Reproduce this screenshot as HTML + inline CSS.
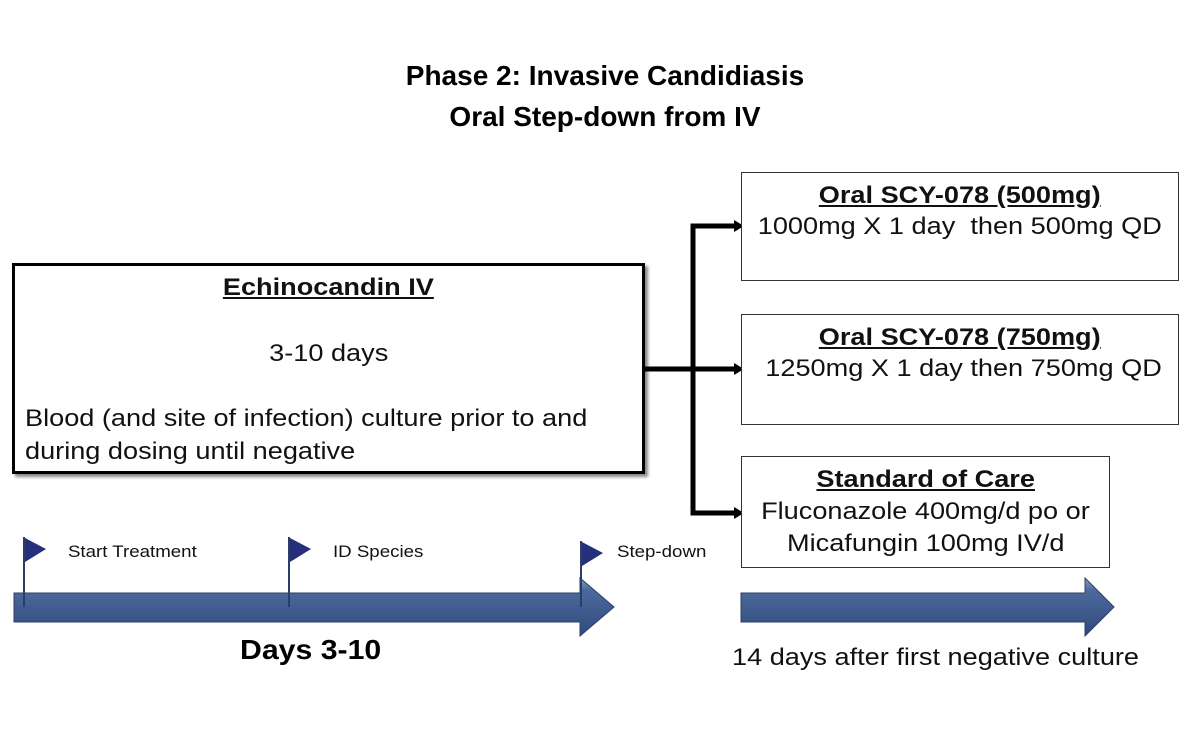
<!DOCTYPE html>
<html><head><style>
body{margin:0;width:1190px;height:749px;background:#fff;font-family:"Liberation Sans",sans-serif;position:relative;overflow:hidden}
.a{position:absolute}
.t{font-family:"Liberation Sans",sans-serif;font-weight:bold;font-size:28px;text-align:center;width:1190px;left:10px}
.box{position:absolute;border:1px solid #333;background:#fff;text-align:center;font-size:24px;color:#111}
.s{display:inline-block;transform:scaleX(1.13);transform-origin:center;white-space:nowrap}
.l{display:inline-block;transform:scaleX(1.13);transform-origin:left;white-space:nowrap}
.u{font-weight:bold;text-decoration:underline}
</style></head><body>
<div class="a t" style="top:60px">Phase 2: Invasive Candidiasis</div>
<div class="a t" style="top:101px">Oral Step-down from IV</div>

<div class="a" style="left:12px;top:263px;width:627px;height:205px;border:3px solid #000;box-shadow:3px 3px 3px #888;font-size:24px;color:#111">
 <div style="position:absolute;top:8px;width:100%;text-align:center"><span class="s u">Echinocandin IV</span></div>
 <div style="position:absolute;top:74px;width:100%;text-align:center"><span class="s">3-10 days</span></div>
 <div style="position:absolute;top:136px;left:10px;line-height:33px"><span class="l">Blood (and site of infection) culture prior to and</span><br><span class="l">during dosing until negative</span></div>
</div>

<svg class="a" style="left:0;top:0" width="1190" height="749">
 <defs>
  <linearGradient id="g" x1="0" y1="0" x2="0" y2="1"><stop offset="0" stop-color="#8aa0c4"/><stop offset="0.2" stop-color="#4e6a9c"/><stop offset="1" stop-color="#2f4a7c"/></linearGradient>
 </defs>
 <g stroke="#000" stroke-width="5" fill="none">
  <path d="M642 369 H736"/>
  <path d="M736 226 H693 V513 H736"/>
 </g>
 <g fill="#000">
  <path d="M734 220 L744 226 L734 232Z"/>
  <path d="M734 363 L744 369 L734 375Z"/>
  <path d="M734 507 L744 513 L734 519Z"/>
 </g>
 <path d="M14 593 H580 V578 L614 607 L580 636 V622 H14Z" fill="url(#g)" stroke="#2a3f66" stroke-width="1"/>
 <path d="M741 593 H1085 V578 L1114 607 L1085 636 V622 H741Z" fill="url(#g)" stroke="#2a3f66" stroke-width="1"/>
 <g stroke="#2a3f66" stroke-width="2">
  <line x1="24" y1="537" x2="24" y2="607"/><line x1="289" y1="537" x2="289" y2="607"/><line x1="581" y1="541" x2="581" y2="607"/>
 </g>
 <g fill="#252f7a">
  <path d="M25 538 L46 549 L25 562Z"/><path d="M290 538 L311 549 L290 562Z"/><path d="M582 542 L603 553 L582 566Z"/>
 </g>
 <g font-family="Liberation Sans" font-size="17" fill="#111" transform="scale(1.1,1)">
  <text x="61.8" y="557">Start Treatment</text>
  <text x="302.7" y="557">ID Species</text>
  <text x="560.9" y="557">Step-down</text>
 </g>
</svg>

<div class="box" style="left:741px;top:172px;width:436px;height:107px"><div style="margin-top:9px"><span class="s u">Oral SCY-078 (500mg)</span></div><div style="margin-top:3px"><span class="s">1000mg X 1 day&nbsp; then 500mg QD</span></div></div>
<div class="box" style="left:741px;top:314px;width:436px;height:109px"><div style="margin-top:9px"><span class="s u">Oral SCY-078 (750mg)</span></div><div style="margin-top:3px"><span class="s">&nbsp;1250mg X 1 day then 750mg QD</span></div></div>
<div class="box" style="left:741px;top:456px;width:367px;height:110px;line-height:32px"><div style="margin-top:7px"><span class="s u">Standard of Care</span></div><div><span class="s">Fluconazole 400mg/d po or</span><br><span class="s">Micafungin 100mg IV/d</span></div></div>

<div class="a" style="left:240px;top:634px;font-size:28px;font-weight:bold"><span class="l" style="transform:scaleX(1.08)">Days 3-10</span></div>
<div class="a" style="left:732px;top:644px;font-size:24px;color:#111"><span class="l">14 days after first negative culture</span></div>
</body></html>
